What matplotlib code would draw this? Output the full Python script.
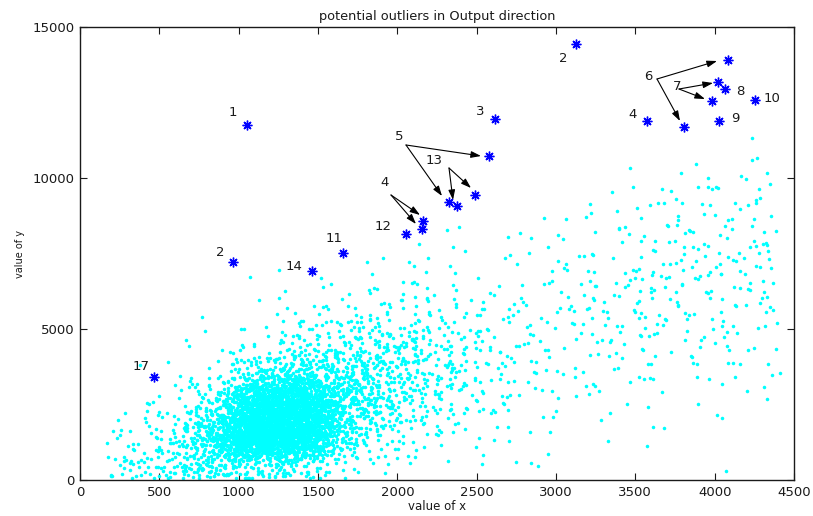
import numpy as np
import matplotlib
matplotlib.use("Agg")
import matplotlib.pyplot as plt

# ---------------- data ----------------
# Cloud of observations, read from the picture as counts per cell.
x_edges = [170, 250, 500, 750, 1000, 1250, 1500, 1750, 2000, 2250,
           2500, 2750, 3000, 3250, 3500, 3750, 4000, 4250, 4420]
y_edges = [0, 1000, 2000, 3000, 4000, 5000, 6000, 7000, 8000, 9000,
           10000, 11000, 12000]
# counts[i] = number of points in x bin i for each y bin (0-1k, 1k-2k, ...)
counts = [
    [6, 0, 0, 0, 0, 0, 0, 0, 0, 0, 0, 0],
    [30, 10, 4, 1, 0, 0, 0, 0, 0, 0, 0, 0],
    [55, 40, 15, 4, 1, 0, 0, 0, 0, 0, 0, 0],
    [80, 240, 80, 14, 4, 1, 0, 0, 0, 0, 0, 0],
    [70, 800, 540, 65, 12, 3, 1, 0, 0, 0, 0, 0],
    [45, 660, 640, 140, 28, 8, 2, 0, 0, 0, 0, 0],
    [12, 110, 200, 115, 38, 10, 3, 0, 0, 0, 0, 0],
    [5, 30, 70, 80, 50, 18, 6, 1, 0, 0, 0, 0],
    [2, 15, 35, 45, 40, 18, 8, 3, 0, 0, 0, 0],
    [1, 8, 18, 28, 25, 14, 7, 3, 1, 0, 0, 0],
    [1, 5, 10, 12, 12, 9, 5, 3, 1, 0, 0, 0],
    [1, 3, 5, 8, 8, 7, 5, 3, 1, 0, 0, 0],
    [0, 2, 3, 8, 11, 10, 8, 6, 4, 1, 0, 0],
    [0, 1, 2, 7, 10, 10, 8, 6, 4, 2, 0, 0],
    [1, 1, 2, 5, 9, 13, 12, 10, 7, 4, 1, 0],
    [0, 0, 1, 4, 7, 11, 13, 12, 9, 6, 3, 0],
    [1, 1, 2, 4, 6, 9, 11, 12, 10, 6, 3, 1],
    [0, 0, 0, 3, 4, 5, 6, 7, 4, 2, 1, 0],
]

# Potential outliers (blue asterisks)
out_x = [1050, 966, 1660, 1464, 468, 2055, 2164, 2155, 2326, 2374, 2488,
         2580, 2614, 3126, 3572, 3809, 3983, 4023, 4067, 4086, 4025, 4256]
out_y = [11755, 7207, 7528, 6921, 3400, 8146, 8576, 8322, 9216, 9084, 9426,
         10739, 11954, 14426, 11898, 11700, 12560, 13168, 12936, 13907, 11898, 12583]

# Labels: text and pixel position in the figure
label_text = ["1", "2", "11", "14", "17", "12", "4", "5", "13", "3", "2",
              "4", "6", "7", "8", "10", "9"]
label_pix = [(233, 113), (220, 253), (334, 238), (294, 266), (141, 367),
             (383, 226), (385, 183), (399, 136), (434, 161), (480, 112),
             (563, 58), (633, 114), (648, 77), (677, 86), (740, 92),
             (772, 99), (735, 119)]

# Arrows: (tail pixel, head pixel)
arrows_pix = [
    ((391, 195), (420, 215)), ((391, 195), (416, 224)),   # 4
    ((406, 145), (481, 156)), ((406, 145), (442, 196)),   # 5
    ((449, 168), (453, 200)), ((449, 168), (471, 188)),   # 13
    ((657, 79), (717, 61)), ((657, 79), (680, 121)),      # 6
    ((679, 89), (713, 83)), ((679, 89), (705, 99)),       # 7
]

# ---------------- layout ----------------
W, H = 813, 516
AX_L, AX_R, AX_T, AX_B = 80, 794, 27, 480
XMAX, YMAX = 4500, 15000


def pix2data(px, py):
    return ((px - AX_L) / (AX_R - AX_L) * XMAX,
            (AX_B - py) / (AX_B - AX_T) * YMAX)


def halton(i, b):
    f, r = 1.0, 0.0
    while i > 0:
        f /= b
        r += f * (i % b)
        i //= b
    return r


def frac(v):
    return v - np.floor(v)


# Spread each cell's counted points with a tent profile two cells wide,
# centred on the cell, so that neighbouring cells blend smoothly.
cx, cy = [], []
k = 1
cell = 0
for i, col in enumerate(counts):
    x0, x1 = x_edges[i], x_edges[i + 1]
    wx = x1 - x0
    for j, n in enumerate(col):
        y0, y1 = y_edges[j], y_edges[j + 1]
        wy = y1 - y0
        cell += 1
        o1, o2 = frac(cell * 0.6180339887), frac(cell * 0.7548776662)
        o3, o4 = frac(cell * 0.5698402910), frac(cell * 0.4142135624)
        for _ in range(n):
            u = frac(halton(k, 2) + o1) + frac(halton(k, 5) + o3)
            v = frac(halton(k, 3) + o2) + frac(halton(k, 7) + o4)
            px = x0 - 0.5 * wx + u * wx
            py = y0 - 0.5 * wy + v * wy
            if px < x_edges[0]:
                px = 2 * x_edges[0] - px
            if px > x_edges[-1]:
                px = 2 * x_edges[-1] - px
            if py < 60:
                py = 120 - py
            cx.append(px)
            cy.append(py)
            k += 1

plt.rcParams['font.family'] = ['DejaVu Sans']
fig = plt.figure(figsize=(W / 100, H / 100), dpi=100)
ax = fig.add_axes([AX_L / W, (H - AX_B) / H, (AX_R - AX_L) / W, (AX_B - AX_T) / H])

ax.scatter(cx, cy, s=6.5, c='#00ffff', marker='o', linewidths=0, zorder=2)
ax.plot(out_x, out_y, linestyle='none', marker=(8, 2, 0), markersize=7,
        markeredgewidth=1.0, color='#0000ff', zorder=3)

for t, (px, py) in zip(label_text, label_pix):
    x, y = pix2data(px, py)
    ax.text(x, y, t, fontsize=9.5, ha='center', va='center', color='#1a1a1a', zorder=4)

for (tp, hp) in arrows_pix:
    ax.annotate('', xy=pix2data(*hp), xytext=pix2data(*tp),
                arrowprops=dict(arrowstyle='-|>,head_length=0.6,head_width=0.2',
                                color='k', lw=0.8, mutation_scale=10,
                                shrinkA=0, shrinkB=0),
                zorder=4)

ax.set_xlim(0, XMAX)
ax.set_ylim(0, YMAX)
ax.set_xticks(np.arange(0, 4501, 500))
ax.set_yticks([0, 5000, 10000, 15000])
ax.tick_params(direction='in', length=5, width=0.8, top=True, right=True,
               labelsize=9.5, pad=4, colors='#1a1a1a')
for sp in ax.spines.values():
    sp.set_linewidth(1.0)
    sp.set_color('#1a1a1a')

ax.set_title('potential outliers in Output direction', fontsize=9.3, pad=5, color='#1a1a1a')
ax.set_xlabel('value of x', fontsize=8.5, labelpad=1, color='#1a1a1a')
ax.set_ylabel('value of y', fontsize=7, labelpad=5, color='#1a1a1a')

fig.savefig('out.png', dpi=100)
